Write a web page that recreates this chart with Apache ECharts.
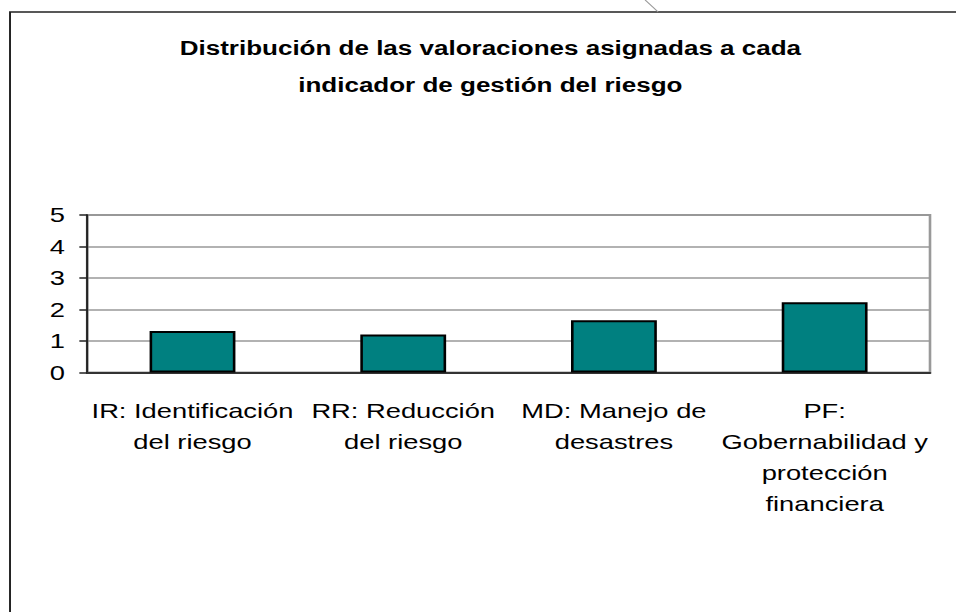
<!DOCTYPE html>
<html>
<head>
<meta charset="utf-8">
<script src="https://cdn.jsdelivr.net/npm/echarts@6/dist/echarts.min.js"></script>
<style>
  html, body { margin: 0; padding: 0; background: #fff; overflow: hidden; }
  /* la imagen original esta estirada en horizontal */
  #chart { width: 735px; height: 612px; transform: scaleX(1.3007); transform-origin: 0 0; }
</style>
</head>
<body>
<div id="chart"></div>
<script>
// datos del grafico
var categories = [
  'IR: Identificación\ndel riesgo',
  'RR: Reducción\ndel riesgo',
  'MD: Manejo de\ndesastres',
  'PF:\nGobernabilidad y\nprotección\nfinanciera'
];
var valores = [1.32, 1.21, 1.66, 2.23];
var yTicks = [0, 1, 2, 3, 4, 5];

var chart = echarts.init(document.getElementById('chart'), null, { renderer: 'svg' });

var option = {
  backgroundColor: '#fff',
  animation: false,
  title: {
    text: 'Distribución de las valoraciones asignadas a cada\nindicador de gestión del riesgo',
    left: 372,
    textAlign: 'center',
    top: 25,
    textStyle: {
      fontFamily: 'Liberation Sans, Arial, sans-serif',
      fontSize: 20,
      fontWeight: 'bold',
      color: '#000',
      lineHeight: 37
    }
  },
  graphic: [
    // marco exterior (solo borde izquierdo y superior visibles)
    {
      type: 'polyline',
      shape: { points: [[7.7, 612], [7.7, 12], [735, 12]] },
      style: { stroke: '#222', lineWidth: 1.5, fill: null }
    },
    {
      type: 'line',
      shape: { x1: 496, y1: 0, x2: 506, y2: 12 },
      style: { stroke: '#999', lineWidth: 1 }
    }
  ],
  grid: {
    left: 67,
    right: 20,
    top: 215,
    bottom: 239.5,
    show: true,
    borderColor: '#999',
    borderWidth: 2
  },
  xAxis: {
    type: 'category',
    data: categories,
    axisLine: { show: true, lineStyle: { color: '#333', width: 2 } },
    axisTick: { show: false },
    axisLabel: {
      interval: 0,
      margin: 23,
      fontFamily: 'Liberation Sans, Arial, sans-serif',
      fontSize: 21,
      lineHeight: 31,
      color: '#000',
      align: 'center'
    }
  },
  yAxis: {
    type: 'value',
    min: 0,
    max: 5,
    interval: 1,
    axisLine: { show: true, lineStyle: { color: '#222', width: 1.6 } },
    axisTick: { show: true, length: 6, lineStyle: { color: '#222', width: 1.5 } },
    splitLine: { show: true, lineStyle: { color: '#999', width: 1.5 } },
    axisLabel: {
      margin: 17,
      fontFamily: 'Liberation Sans, Arial, sans-serif',
      fontSize: 21,
      color: '#000',
      formatter: function (v) { return yTicks.indexOf(v) >= 0 ? String(v) : ''; }
    }
  },
  series: [
    {
      name: 'Valoración',
      type: 'bar',
      data: valores,
      barWidth: 66,
      itemStyle: {
        color: '#008080',
        borderColor: '#000',
        borderWidth: 2
      }
    }
  ]
};

chart.setOption(option);
</script>
</body>
</html>
